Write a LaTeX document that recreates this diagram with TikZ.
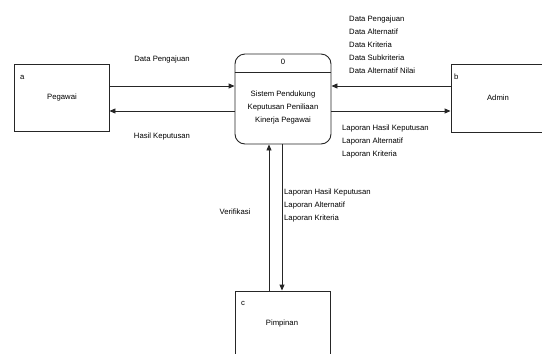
\documentclass[tikz,border=0pt]{standalone}
\usepackage{fontspec}
\setmainfont{Liberation Sans}
\usetikzlibrary{arrows.meta,positioning}
\begin{document}
\begin{tikzpicture}[x=1pt,y=-1pt,
  font=\fontsize{7.7}{9}\selectfont,
  ent/.style={draw=black!85,line width=0.9pt,rectangle,inner sep=0pt},
  proc/.style={draw=black!85,line width=0.9pt,rounded corners=10pt,rectangle,inner sep=0pt,minimum width=96pt,minimum height=90pt},
  arr/.style={draw=black!85,line width=0.9pt,-{Triangle[length=6pt,width=5pt]}},
  lbl/.style={inner sep=0pt,anchor=west},
  ctr/.style={inner sep=0pt,align=center}]
\useasboundingbox (0,0) rectangle (542,354);
\fill[white] (0,0) rectangle (542,354);
% entities
\node[ent,minimum width=95pt,minimum height=67pt] (peg) at (61.5,97.5) {};
\node[ent,minimum width=110pt,minimum height=68pt] (adm) at (506,98) {};
\node[ent,minimum width=95pt,minimum height=80pt] (pim) at (282.5,331) {};
\node[lbl] (pega) at (20,77) {a};
\node[ctr] (pegt) at (62,98) {Pegawai};
\node[lbl] (admb) at (454,77) {b};
\node[ctr] (admt) at (498,98) {Admin};
\node[lbl] (pimc) at (241,303) {c};
\node[ctr] (pimt) at (282,324) {Pimpinan};
% process
\node[proc] (p) at (283,99) {};
\draw[draw=black!85,line width=0.9pt] ([yshift=-19pt]p.north west) -- ([yshift=-19pt]p.north east);
\node[ctr] (pnum) at (283,62) {0};
\node[ctr,align=center] (ptxt) at (283,107.5) {Sistem Pendukung\\[3.8pt]Keputusan Peniliaan\\[3.8pt]Kinerja Pegawai};
% connectors
\draw[arr] ([yshift=11.5pt]peg.east) -- ([yshift=11.5pt]peg.east -| p.west);
\draw[arr] ([yshift=-13.5pt]peg.east -| p.west) -- ([yshift=-13.5pt]peg.east);
\draw[arr] ([yshift=12pt]adm.west) -- ([yshift=12pt]adm.west -| p.east);
\draw[arr] ([yshift=-13pt]adm.west -| p.east) -- ([yshift=-13pt]adm.west);
\draw[arr] ([xshift=-13.5pt]pim.north) -- ([xshift=-13.5pt]pim.north |- p.south);
\draw[arr] ([xshift=-0.5pt]pim.north |- p.south) -- ([xshift=-0.5pt]pim.north);
% labels
\node[ctr] (l1) at (162,60) {Data Pengajuan};
\node[ctr] (l2) at (162,136.5) {Hasil Keputusan};
\node[lbl,align=left] (l3) at (349,45) {Data Pengajuan\\[4pt]Data Alternatif\\[4pt]Data Kriteria\\[4pt]Data Subkriteria\\[4pt]Data Alternatif Nilai};
\node[lbl,align=left] (l4) at (342,142) {Laporan Hasil Keputusan\\[4pt]Laporan Alternatif\\[4pt]Laporan Kriteria};
\node[lbl,align=left] (l5) at (284,205.5) {Laporan Hasil Keputusan\\[4pt]Laporan Alternatif\\[4pt]Laporan Kriteria};
\node[ctr] (l6) at (235,212) {Verifikasi};
\end{tikzpicture}
\end{document}
